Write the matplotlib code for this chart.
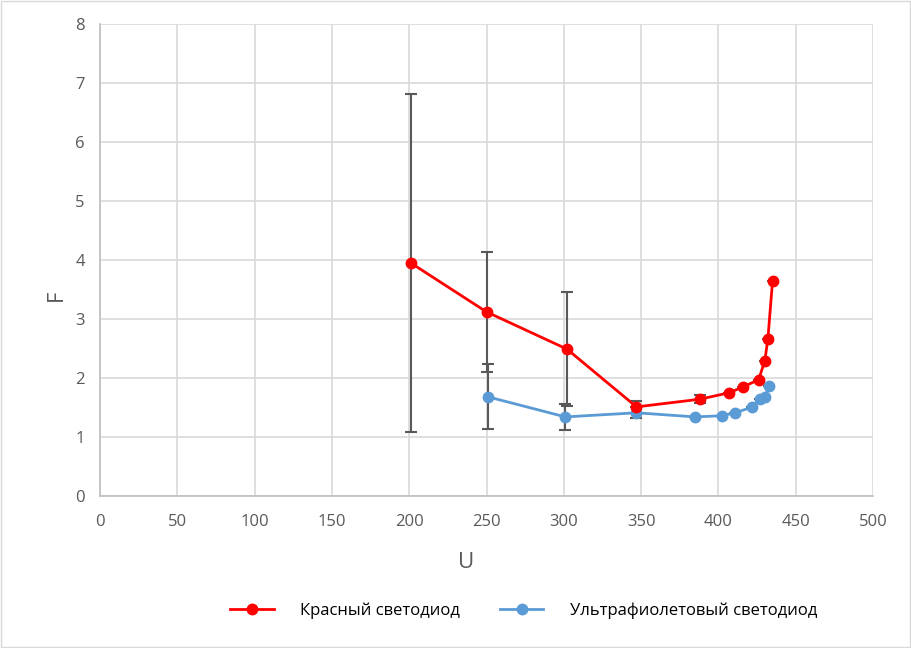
import numpy as np
import matplotlib.pyplot as plt

plt.rcParams['font.family'] = ['Open Sans', 'DejaVu Sans']

# red LED
red_u = [201, 250, 302, 347, 388, 407, 416, 426, 430, 432, 435]
red_f = [3.95, 3.12, 2.49, 1.51, 1.64, 1.75, 1.85, 1.97, 2.29, 2.66, 3.64]
red_err = [2.87, 1.02, 0.96, 0.10, 0.07, 0, 0, 0, 0, 0, 0]

# UV LED
uv_u = [251, 301, 347, 385, 402, 411, 422, 427, 430, 433]
uv_f = [1.68, 1.34, 1.41, 1.34, 1.36, 1.41, 1.51, 1.64, 1.68, 1.87]
uv_err = [0.55, 0.22, 0.09, 0, 0, 0, 0, 0, 0, 0]

red_label = 'Красный светодиод'
uv_label = 'Ультрафиолетовый светодиод'

fig = plt.figure(figsize=(9.11, 6.48), dpi=100)
fig.patches.append(plt.Rectangle((0.001, 0.001), 0.998, 0.998, transform=fig.transFigure,
                                 fill=False, edgecolor='#d9d9d9', lw=1))
ax = fig.add_axes([0.1098, 0.2346, 0.8485, 0.7284])

gray = '#595959'
ax.errorbar(red_u, red_f, yerr=red_err, fmt='none', ecolor=gray, elinewidth=1.5,
            capsize=4, capthick=1.5, zorder=2)
ax.errorbar(uv_u, uv_f, yerr=uv_err, fmt='none', ecolor=gray, elinewidth=1.5,
            capsize=4, capthick=1.5, zorder=2)
ax.plot(red_u, red_f, '-o', color='#ff0000', lw=2, ms=7.5, label=red_label, zorder=4)
ax.plot(uv_u, uv_f, '-o', color='#5b9bd5', lw=2, ms=7.5, label=uv_label, zorder=3)

ax.set_xlim(0, 500)
ax.set_ylim(0, 8)
ax.set_xticks(np.arange(0, 501, 50))
ax.set_yticks(np.arange(0, 9, 1))
ax.grid(True, color='#d9d9d9', lw=1.2)
ax.set_axisbelow(True)
for s in ['top', 'right']:
    ax.spines[s].set_visible(False)
for s in ['left', 'bottom']:
    ax.spines[s].set_color('#bfbfbf')
    ax.spines[s].set_linewidth(1.2)
ax.tick_params(length=0, labelsize=12, colors=gray)
ax.tick_params(axis='x', pad=13)
ax.tick_params(axis='y', pad=11)

ax.set_xlabel('U', fontsize=16, color=gray)
ax.set_ylabel('F', fontsize=16, color=gray)
ax.xaxis.set_label_coords(0.473, -0.119)
ax.yaxis.set_label_coords(-0.0425, 0.426)

leg = fig.legend(loc='center', bbox_to_anchor=(0.575, 0.057), ncol=2, frameon=False,
                 fontsize=12, handlelength=2.6, columnspacing=2.4, handletextpad=1.6)
for t in leg.get_texts():
    t.set_color('#000000')

fig.savefig('out.png', dpi=100)
